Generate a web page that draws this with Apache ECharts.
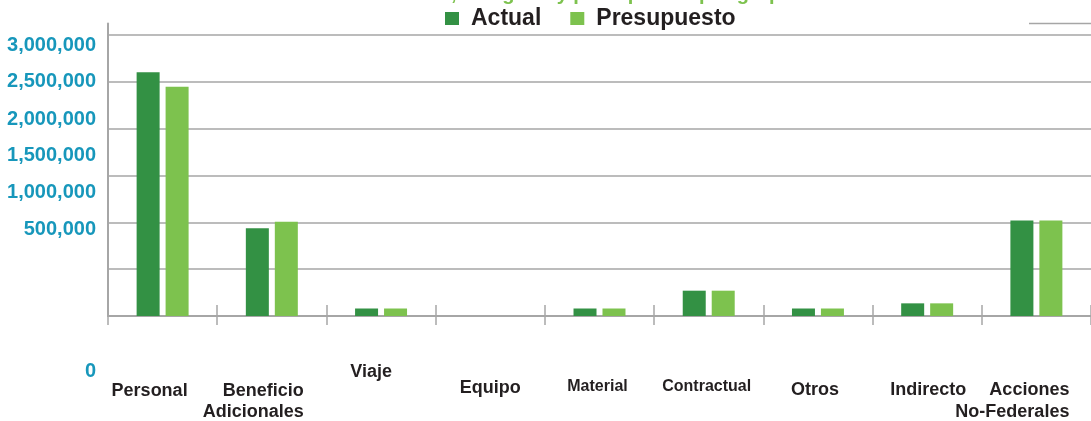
<!DOCTYPE html>
<html>
<head>
<meta charset="utf-8">
<title>Actual vs Presupuesto</title>
<script src="https://cdn.jsdelivr.net/npm/echarts@6/dist/echarts.min.js"></script>
<style>
  html, body { margin: 0; padding: 0; background: #fff; }
  #chart { width: 1091px; height: 421px; }
</style>
</head>
<body>
<div id="chart"></div>
<script>
// datos del grafico
const categories = ['Personal', 'Beneficio\nAdicionales', 'Viaje', 'Equipo', 'Material',
  'Contractual', 'Otros', 'Indirecto', 'Acciones\nNo-Federales'];
const actualValues = [2600000, 935000, 80000, 0, 80000, 270000, 80000, 135000, 1020000];
const presupuestoValues = [2445000, 1005000, 80000, 0, 80000, 270000, 80000, 135000, 1020000];
const yTickValues = [0, 500000, 1000000, 1500000, 2000000, 2500000, 3000000];
const yTickLabels = ['0', '500,000', '1,000,000', '1,500,000', '2,000,000', '2,500,000', '3,000,000'];

const FONT = "'Liberation Sans', Arial, sans-serif";
const DARK = '#339144';
const LIGHT = '#7dc24e';
const GRAY = '#a6a6a6';

// estilo base de texto
function yStyle(padding) {
  return { fontFamily: FONT, fontWeight: 'bold', fontSize: 20, color: '#1797bb', padding: padding };
}
function xStyle(padding, extra) {
  return Object.assign({ fontFamily: FONT, fontWeight: 'bold', fontSize: 18, color: '#231f20', padding: padding }, extra || {});
}

const chart = echarts.init(document.getElementById('chart'));

chart.setOption({
  animation: false,
  title: {
    text: 'Gastos actuales, categoría y presupuesto por grupo',
    left: 'center',
    top: -21,
    textStyle: { fontFamily: FONT, fontWeight: 'bold', fontSize: 20, color: LIGHT }
  },
  legend: {
    left: 440,
    top: 2,
    itemWidth: 14,
    itemHeight: 13,
    itemGap: 29,
    icon: 'rect',
    textStyle: { fontFamily: FONT, fontWeight: 'bold', fontSize: 23, color: '#231f20', padding: [0, 0, 0, 7] }
  },
  graphic: [{
    type: 'line',
    shape: { x1: 1029, y1: 23.5, x2: 1091, y2: 23.5 },
    style: { stroke: GRAY, lineWidth: 1.5 }
  }],
  grid: { left: 108, top: 23.5, bottom: 104, right: -7 },
  xAxis: [{
    type: 'category',
    data: categories,
    axisLine: { lineStyle: { color: GRAY, width: 2 } },
    axisTick: { show: false },
    axisLabel: {
      interval: 0,
      margin: 40,
      formatter: (value, index) => value.split('\n')
        .map((line, j) => '{c' + index + (j ? 'b' : '') + '|' + line + '}').join('\n'),
      rich: {
        c0: xStyle([26, 26, 0, 0]),
        c1: xStyle([26, 37, 0, 0], { align: 'right' }),
        c1b: xStyle([3, 37, 0, 0], { align: 'right' }),
        c2: xStyle([7, 20, 0, 0]),
        c3: xStyle([23, 0, 0, 0]),
        c4: xStyle([23, 4, 0, 0], { fontSize: 16 }),
        c5: xStyle([23, 4, 0, 0], { fontSize: 16 }),
        c6: xStyle([25, 6, 0, 0]),
        c7: xStyle([25, 0, 0, 2]),
        c8: xStyle([25, 48, 0, 0], { align: 'right' }),
        c8b: xStyle([4, 48, 0, 0], { align: 'right' })
      }
    }
  }, {
    // marcas que cruzan el eje
    type: 'category',
    data: categories,
    position: 'bottom',
    offset: -11,
    axisLine: { show: false },
    axisTick: { show: true, length: 20, lineStyle: { color: GRAY, width: 1.5 } },
    axisLabel: { show: false }
  }],
  yAxis: {
    type: 'value',
    min: 0,
    max: 3120000,
    interval: 500000,
    axisLine: { show: true, lineStyle: { color: GRAY, width: 2 } },
    axisTick: { show: false },
    splitLine: { showMaxLine: false, lineStyle: { color: GRAY, width: 1.5 } },
    axisLabel: {
      margin: 12,
      showMaxLabel: false,
      formatter: (v) => {
        const i = yTickValues.indexOf(v);
        return i < 0 ? '' : '{y' + i + '|' + yTickLabels[i] + '}';
      },
      rich: {
        y0: yStyle([110, 0, 0, 0]),
        y1: yStyle([0, 0, 79, 0]),
        y2: yStyle([0, 0, 59, 0]),
        y3: yStyle([0, 0, 39, 0]),
        y4: yStyle([0, 0, 18, 0]),
        y5: yStyle([0, 0, 0, 0]),
        y6: yStyle([21, 0, 0, 0])
      }
    }
  },
  series: [{
    name: 'Actual',
    type: 'bar',
    data: actualValues,
    barWidth: 23,
    barGap: '26%',
    itemStyle: { color: DARK }
  }, {
    name: 'Presupuesto',
    type: 'bar',
    data: presupuestoValues,
    barWidth: 23,
    itemStyle: { color: LIGHT }
  }]
});
</script>
</body>
</html>
